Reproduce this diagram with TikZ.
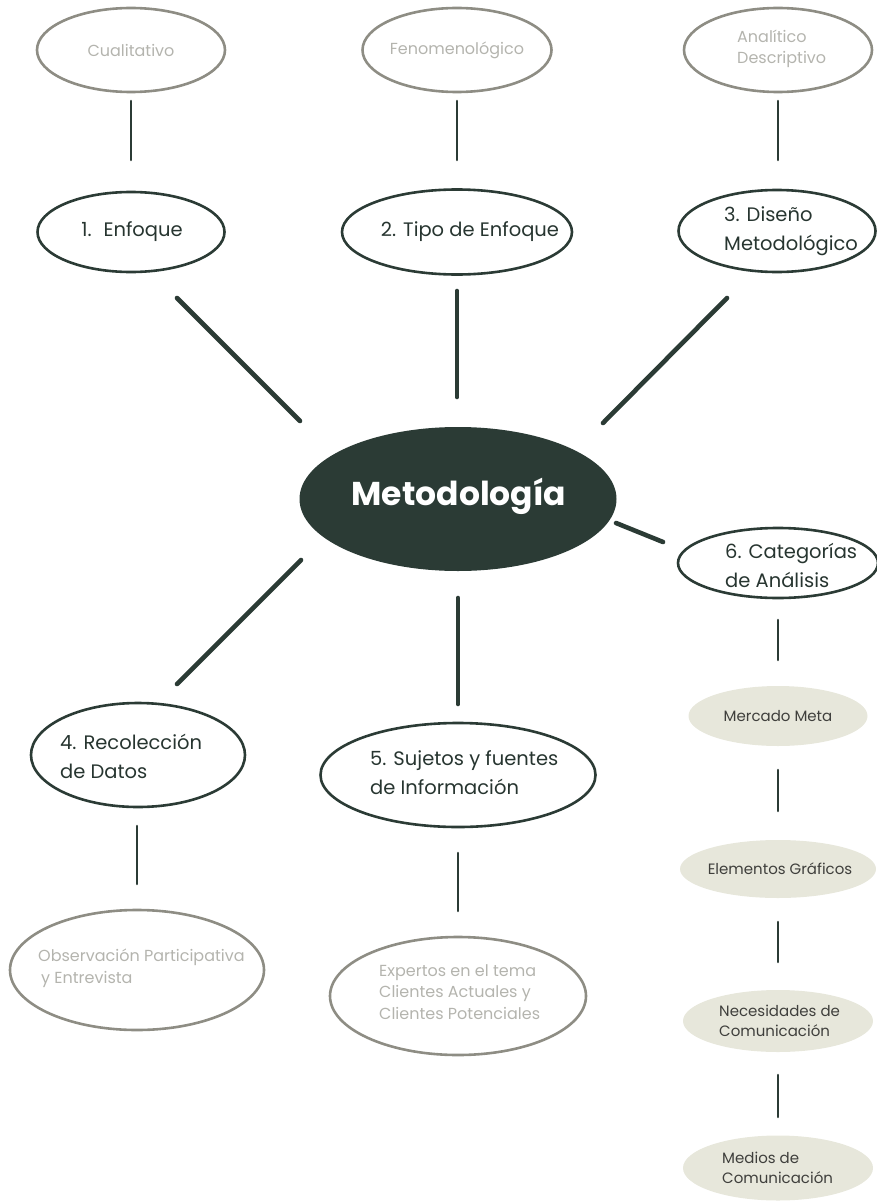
\documentclass[tikz,border=0pt]{standalone}
\usepackage{fontspec}
\setmainfont{Poppins}
\usetikzlibrary{shapes.geometric}
\definecolor{ink}{HTML}{2B3B35}
\definecolor{ashline}{HTML}{8E8D84}
\definecolor{ashtext}{HTML}{B4B4AE}
\definecolor{sand}{HTML}{E7E7DB}
\definecolor{labeltext}{HTML}{3F3F3C}
\tikzset{
  x=1pt, y=-1pt,
  darkring/.style={ellipse, draw=ink, line width=2.6pt, inner sep=0pt},
  greyring/.style={ellipse, draw=ashline, line width=2.6pt, inner sep=0pt},
  sandblob/.style={ellipse, fill=sand, inner sep=0pt},
  maintext/.style={font=\fontsize{19.5}{29}\selectfont, text=ink!90!black, align=left, inner sep=0pt},
  lighttext/.style={font=\fontsize{16}{21.5}\selectfont, text=ashtext, align=left, inner sep=0pt},
  smalltext/.style={font=\fontsize{15}{19.5}\selectfont, text=labeltext, align=left, inner sep=0pt},
  thinlink/.style={draw=ink, line width=2.6pt, line cap=round},
  thicklink/.style={draw=ink, line width=4.6pt, line cap=round},
}
\begin{document}
\begin{tikzpicture}
\useasboundingbox (0,0) rectangle (877,1204);

% top row: descriptors
\node[greyring, minimum width=188pt, minimum height=84pt] (cual) at (131,50) {};
\node[greyring, minimum width=189pt, minimum height=84pt] (feno) at (457,50) {};
\node[greyring, minimum width=188pt, minimum height=84pt] (anal) at (778,50) {};
\node[lighttext] (cualt) at (131,50) {Cualitativo};
\node[lighttext] (fenot) at (457,50) {Fenomenológico};
\node[lighttext, anchor=west] (analt) at (737,49) {Analítico\\Descriptivo};

% second row: methodology steps
\node[darkring, minimum width=187pt, minimum height=80pt] (enf) at (131,232) {};
\node[darkring, minimum width=230pt, minimum height=85pt] (tipo) at (457,232) {};
\node[darkring, minimum width=197pt, minimum height=82pt] (dis) at (777,231) {};
\node[maintext] (enft) at (132,232) {1.\hspace{12pt}Enfoque};
\node[maintext] (tipot) at (470,232) {2. Tipo de Enfoque};
\node[maintext, anchor=west] (dist) at (724,231) {3. Diseño\\Metodológico};

% centre
\node[ellipse, fill=ink, minimum width=317pt, minimum height=144pt, inner sep=0pt] (met) at (458,499) {};
\node[font=\fontsize{33}{33}\selectfont\bfseries, text=white, inner sep=0pt] (mett) at (459,496) {Metodología};

% category branch
\node[darkring, minimum width=200pt, minimum height=70pt] (cat) at (778,563) {};
\node[maintext, anchor=west] (catt) at (725,565) {6. Categorías\\de Análisis};
\node[sandblob, minimum width=179pt, minimum height=60pt] (merc) at (778,716) {};
\node[smalltext] (merct) at (778,716) {Mercado Meta};
\node[sandblob, minimum width=196pt, minimum height=58pt] (elem) at (778,869) {};
\node[smalltext] (elemt) at (780,869) {Elementos Gráficos};
\node[sandblob, minimum width=190pt, minimum height=62pt] (nec) at (778,1021) {};
\node[smalltext, anchor=west] (nect) at (719,1021) {Necesidades de\\Comunicación};
\node[sandblob, minimum width=190pt, minimum height=65pt] (med) at (778,1168) {};
\node[smalltext, anchor=west] (medt) at (722,1168) {Medios de\\Comunicación};

% lower row
\node[darkring, minimum width=214pt, minimum height=104pt] (rec) at (138,755) {};
\node[maintext, anchor=west] (rect) at (60,756) {4. Recolección\\de Datos};
\node[darkring, minimum width=275pt, minimum height=104pt] (suj) at (458,775) {};
\node[maintext, anchor=west] (sujt) at (370,773) {5. Sujetos y fuentes\\de Información};
\node[greyring, minimum width=254pt, minimum height=120pt] (obs) at (137,970) {};
\node[lighttext, anchor=west] (obst) at (38,968) {Observación Participativa\\\hspace{3pt}y Entrevista};
\node[greyring, minimum width=256pt, minimum height=118pt] (exp) at (458,996) {};
\node[lighttext, anchor=west] (expt) at (379,992) {Expertos en el tema\\Clientes Actuales y\\Clientes Potenciales};

% connector ends
\coordinate (a1) at (131,101); \coordinate (a2) at (131,160);
\coordinate (b1) at (457,101); \coordinate (b2) at (457,160);
\coordinate (c1) at (778,101); \coordinate (c2) at (778,160);
\coordinate (d1) at (177,298); \coordinate (d2) at (300,421);
\coordinate (e1) at (457,291); \coordinate (e2) at (457,397);
\coordinate (f1) at (727,298); \coordinate (f2) at (603,423);
\coordinate (g1) at (616,523); \coordinate (g2) at (663,542);
\coordinate (h1) at (301,560); \coordinate (h2) at (177,684);
\coordinate (i1) at (458,598); \coordinate (i2) at (458,704);
\coordinate (j1) at (137,826); \coordinate (j2) at (137,884);
\coordinate (k1) at (458,853); \coordinate (k2) at (458,911);
\coordinate (l1) at (778,620); \coordinate (l2) at (778,660);
\coordinate (m1) at (778,770); \coordinate (m2) at (778,811);
\coordinate (n1) at (778,922); \coordinate (n2) at (778,962);
\coordinate (o1) at (778,1075); \coordinate (o2) at (778,1117);

% connectors
\draw[thinlink] (a1) -- (a2);
\draw[thinlink] (b1) -- (b2);
\draw[thinlink] (c1) -- (c2);
\draw[thicklink] (d1) -- (d2);
\draw[thicklink] (e1) -- (e2);
\draw[thicklink] (f1) -- (f2);
\draw[thicklink] (g1) -- (g2);
\draw[thicklink] (h1) -- (h2);
\draw[thicklink] (i1) -- (i2);
\draw[thinlink] (j1) -- (j2);
\draw[thinlink] (k1) -- (k2);
\draw[thinlink] (l1) -- (l2);
\draw[thinlink] (m1) -- (m2);
\draw[thinlink] (n1) -- (n2);
\draw[thinlink] (o1) -- (o2);
\end{tikzpicture}
\end{document}
